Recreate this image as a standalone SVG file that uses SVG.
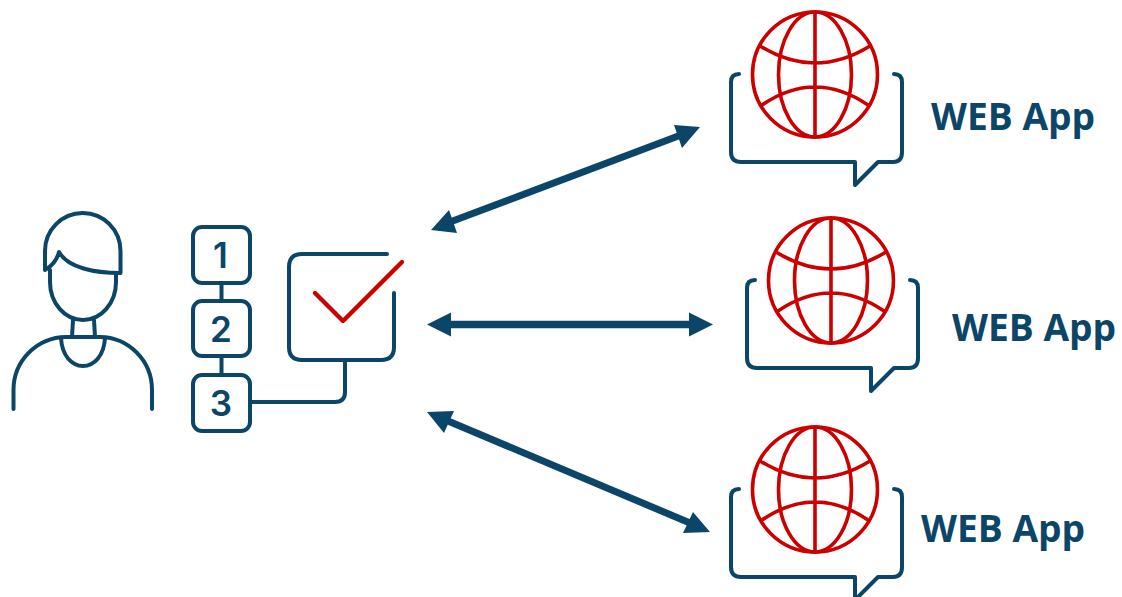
<svg xmlns="http://www.w3.org/2000/svg" xmlns:xlink="http://www.w3.org/1999/xlink" width="1122" height="597" viewBox="0 0 1122 597">
<style>
.n{fill:none;stroke:#0b4568;stroke-width:4;stroke-linecap:round;stroke-linejoin:round}
.r{fill:none;stroke:#cc0000;stroke-width:3.6;stroke-linecap:round;stroke-linejoin:round}
.c{stroke-width:4.4}
.a{fill:#0b4568}
.al{stroke:#0b4568;fill:none}
.t{font-family:"Open Sans",sans-serif;font-weight:700;font-size:37.2px;fill:#0b4568}
.d{font-family:"Inter","Liberation Sans",sans-serif;font-weight:600;font-size:35px;fill:#0b4568;text-anchor:middle}
</style>
<defs>
<g id="web">
<path class="n" d="M739 74Q731 74 731 82V152Q731 162 741 162H855V185L878 162H893Q902 162 902 152V82Q902 74 894 74"/>
<circle class="r" cx="815" cy="74.500" r="62.500"/>
<ellipse class="r" cx="815" cy="74.500" rx="36.500" ry="62.500"/>
<path class="r" d="M815 12V137M760 46Q815 80 870 46M762 105Q815 69 868 105"/>
</g>
</defs>
<rect width="1122" height="597" fill="#fff"/>
<g id="user">
<path class="n" d="M45 270V251A37.750 38 0 0 1 120.500 251V273C95 273 68 268 59 252C57 260 52 266 45 270Z"/>
<path class="n" d="M50 270V282A33 38 0 0 0 116 282V273"/>
<path class="n" d="M73 320L72 337M94 320L95 337"/>
<path class="n" d="M13.500 409V390A53 53 0 0 1 66 337H100A52.500 53 0 0 1 152 390V409"/>
<path class="n" d="M61 338C62 356 72 366 83 366S104 356 105 338"/>
</g>
<g id="steps">
<rect class="n" x="193" y="227" width="57" height="56" rx="9"/>
<rect class="n" x="193" y="301" width="57" height="55" rx="9"/>
<rect class="n" x="193" y="375" width="57" height="56" rx="9"/>
<path class="n" d="M221.500 283V301M221.500 356V375"/>
<text class="d" x="220.500" y="268">1</text>
<text class="d" x="221" y="342">2</text>
<text class="d" x="221" y="416">3</text>
</g>
<g id="check">
<path class="n" d="M387 254H302Q289 254 289 267V347Q289 360 302 360H381Q394 360 394 347V293"/>
<path class="n" d="M345 360V392Q345 402 335 402H251"/>
<path class="r c" d="M315 293L343 321L402 262"/>
</g>
<g id="web1"><use xlink:href="#web"/><text class="t" x="931" y="130">WEB App</text></g>
<g id="web2"><use xlink:href="#web" x="16" y="206"/><text class="t" x="952" y="341">WEB App</text></g>
<g id="web3"><use xlink:href="#web" y="415"/><text class="t" x="921" y="542">WEB App</text></g>
<g id="connectors">
<path class="al" stroke-width="7" d="M450 222L681 135"/>
<polygon class="a" points="700,127 674,125 682,148"/>
<polygon class="a" points="431,230 449,210 457,233"/>
<path class="al" stroke-width="7.500" d="M450 324.500H690"/>
<polygon class="a" points="427,324.500 451,312.500 451,336.500"/>
<polygon class="a" points="713,324.500 689,312.500 689,336.500"/>
<path class="al" stroke-width="7" d="M448 421L690 523"/>
<polygon class="a" points="427,412 454,411 444,433"/>
<polygon class="a" points="710,532 683,533 693,512"/>
</g>
</svg>
